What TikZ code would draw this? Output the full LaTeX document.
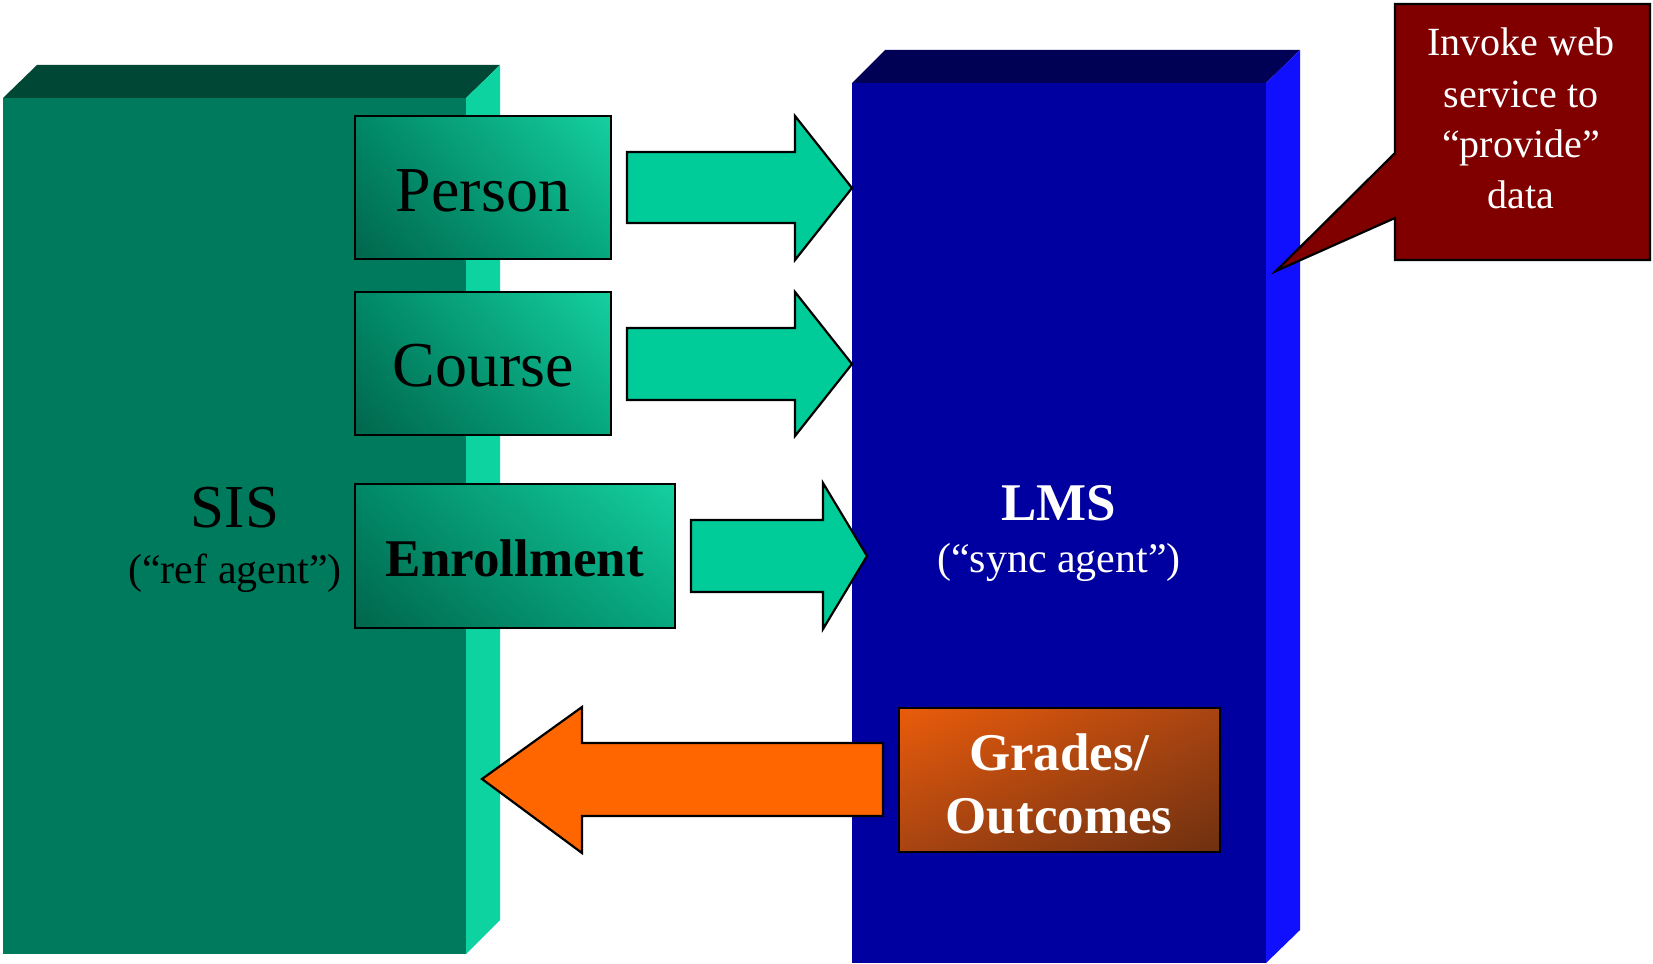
\documentclass[tikz,border=0pt]{standalone}
\usepackage{fontspec}
\usetikzlibrary{shadings}
\setmainfont{Liberation Serif}
\definecolor{sisfront}{HTML}{007A5C}
\definecolor{sistop}{HTML}{004835}
\definecolor{sisside}{HTML}{0DD3A0}
\definecolor{lmsfront}{HTML}{0000A0}
\definecolor{lmstop}{HTML}{000055}
\definecolor{lmsside}{HTML}{1010FF}
\definecolor{garrow}{HTML}{00CC99}
\definecolor{oarrow}{HTML}{FF6600}
\definecolor{callred}{HTML}{800000}
\definecolor{tdkA}{HTML}{00664C}
\definecolor{tdkB}{HTML}{008866}
\definecolor{tltA}{HTML}{06A880}
\definecolor{tltB}{HTML}{15D0A0}
\definecolor{orA}{HTML}{EA5C0A}
\definecolor{orB}{HTML}{A84412}
\definecolor{orC}{HTML}{6E3010}
\begin{document}
\begin{tikzpicture}[x=0.5pt,y=-0.5pt,
  edge/.style={draw=black,line width=1.1pt,line join=miter},
  databox/.style={edge,lower left=tdkA,upper left=tdkB,lower right=tltA,upper right=tltB},
  bigtxt/.style={font=\fontsize{32}{36}\selectfont,text=black,inner sep=0pt},
  boldtxt/.style={font=\fontsize{26.5}{30}\selectfont\bfseries,inner sep=0pt},
  subtxt/.style={font=\fontsize{21}{24}\selectfont,inner sep=0pt,anchor=base},
  calltxt/.style={font=\fontsize{20}{24}\selectfont,text=white,inner sep=0pt,anchor=base}]
\useasboundingbox (0,0) rectangle (1653,963);
\fill[white] (0,0) rectangle (1653,963);

% SIS block
\fill[sistop] (3,98) -- (37,65) -- (500,65) -- (466,98) -- cycle;
\fill[sisside] (466,98) -- (500,65) -- (500,920) -- (466,954) -- cycle;
\fill[sisfront] (3,98) rectangle (466,954);
\node[font=\fontsize{30.5}{34}\selectfont,inner sep=0pt,anchor=base] (sis) at (235,527) {SIS};
\node[subtxt,text=black] (sisagent) at (235,583) {(“ref agent”)};

% LMS block
\fill[lmstop] (852,83) -- (885,50) -- (1300,50) -- (1266,83) -- cycle;
\fill[lmsside] (1266,83) -- (1300,50) -- (1300,930) -- (1266,963) -- cycle;
\fill[lmsfront] (852,83) rectangle (1266,963);
\node[boldtxt,text=white,anchor=base] (lms) at (1059,520) {LMS};
\node[subtxt,text=white] (lmsagent) at (1059,572) {(“sync agent”)};

% data boxes
\shade[databox] (355,116) rectangle (611,259);
\node[bigtxt] (person) at (483,191) {Person};
\shade[databox] (355,292) rectangle (611,435);
\node[bigtxt] (course) at (483,366) {Course};
\shade[databox] (355,484) rectangle (675,628);
\node[boldtxt,text=black] (enroll) at (515,558) {Enrollment};

% green arrows
\filldraw[edge,fill=garrow] (627,152) -- (795,152) -- (795,116) -- (852,188) -- (795,260) -- (795,223) -- (627,223) -- cycle;
\filldraw[edge,fill=garrow] (627,328) -- (795,328) -- (795,292) -- (852,364) -- (795,436) -- (795,400) -- (627,400) -- cycle;
\filldraw[edge,fill=garrow] (691,520) -- (823,520) -- (823,483) -- (867,556) -- (823,629) -- (823,592) -- (691,592) -- cycle;

% orange arrow
\filldraw[edge,fill=oarrow] (883,743) -- (582,743) -- (582,707) -- (482,779) -- (582,853) -- (582,816) -- (883,816) -- cycle;

% grades box
\shade[edge,upper left=orA,lower left=orB,upper right=orB,lower right=orC] (899,708) rectangle (1220,852);
\node[boldtxt,text=white,anchor=base] (grades) at (1059,770) {Grades/};
\node[boldtxt,text=white,anchor=base] (outcomes) at (1059,833) {Outcomes};

% callout
\filldraw[edge,fill=callred] (1395,4) -- (1650,4) -- (1650,260) -- (1395,260) -- (1395,218) -- (1276,271) -- (1395,153) -- cycle;
\node[calltxt] (c1) at (1521,56) {Invoke web};
\node[calltxt] (c2) at (1521,107) {service to};
\node[calltxt] (c3) at (1521,157) {“provide”};
\node[calltxt] (c4) at (1521,208) {data};
\end{tikzpicture}
\end{document}
